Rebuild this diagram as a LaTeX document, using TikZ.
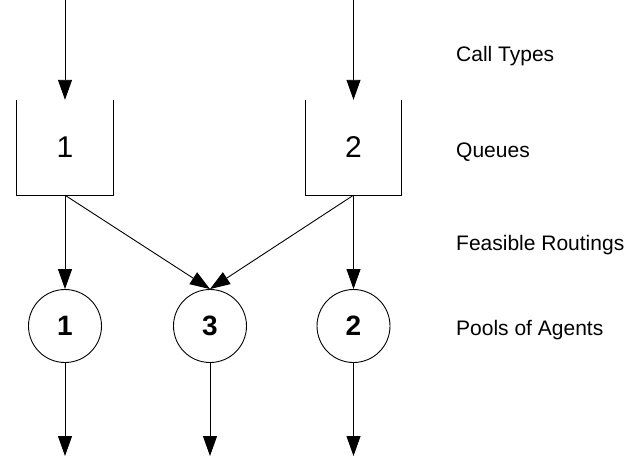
\documentclass[tikz,border=0pt]{standalone}
\usepackage{fontspec}
\setmainfont{Liberation Sans}
\usetikzlibrary{arrows.meta}
\begin{document}
\begin{tikzpicture}[x=1pt,y=-1pt,
  wire/.style={line width=0.9pt, draw=black},
  flow/.style={wire, -{Triangle[length=20pt,width=14pt]}},
  queue/.style={minimum width=96pt, minimum height=95pt, inner sep=0pt,
    font=\fontsize{30}{30}\selectfont},
  pool/.style={circle, draw, line width=0.9pt, minimum size=73pt, inner sep=0pt,
    font=\fontsize{28}{28}\selectfont\bfseries},
  caption/.style={anchor=base west, inner sep=0pt,
    font=\fontsize{21}{21}\selectfont}]
\useasboundingbox (0,0) rectangle (628,456);

% call type sources
\coordinate (s1) at (65,0);
\coordinate (s2) at (353.5,0);

% queues
\node[queue] (q1) at (65,147.5) {1};
\node[queue] (q2) at (353.5,147.5) {2};
\draw[wire] (q1.north west) |- (q1.south east) -- (q1.north east);
\draw[wire] (q2.north west) |- (q2.south east) -- (q2.north east);

% agent pools
\node[pool] (p1) at (65,326) {1};
\node[pool] (p3) at (210,326) {3};
\node[pool] (p2) at (353.5,326) {2};

% departures
\coordinate (d1) at (65,456);
\coordinate (d3) at (210,456);
\coordinate (d2) at (353.5,456);

% arrivals into queues
\draw[flow] (s1) -- (q1.north);
\draw[flow] (s2) -- (q2.north);

% feasible routings
\draw[flow] (q1.south) -- (p1.north);
\draw[flow] (q1.south) -- (p3.north);
\draw[flow] (q2.south) -- (p3.north);
\draw[flow] (q2.south) -- (p2.north);

% service completions
\draw[flow] (p1.south) -- (d1);
\draw[flow] (p3.south) -- (d3);
\draw[flow] (p2.south) -- (d2);

% level captions
\node[caption] (c1) at (456,61) {Call Types};
\node[caption] (c2) at (456,157) {Queues};
\node[caption] (c3) at (456,250) {Feasible Routings};
\node[caption] (c4) at (456,335) {Pools of Agents};
\end{tikzpicture}
\end{document}
